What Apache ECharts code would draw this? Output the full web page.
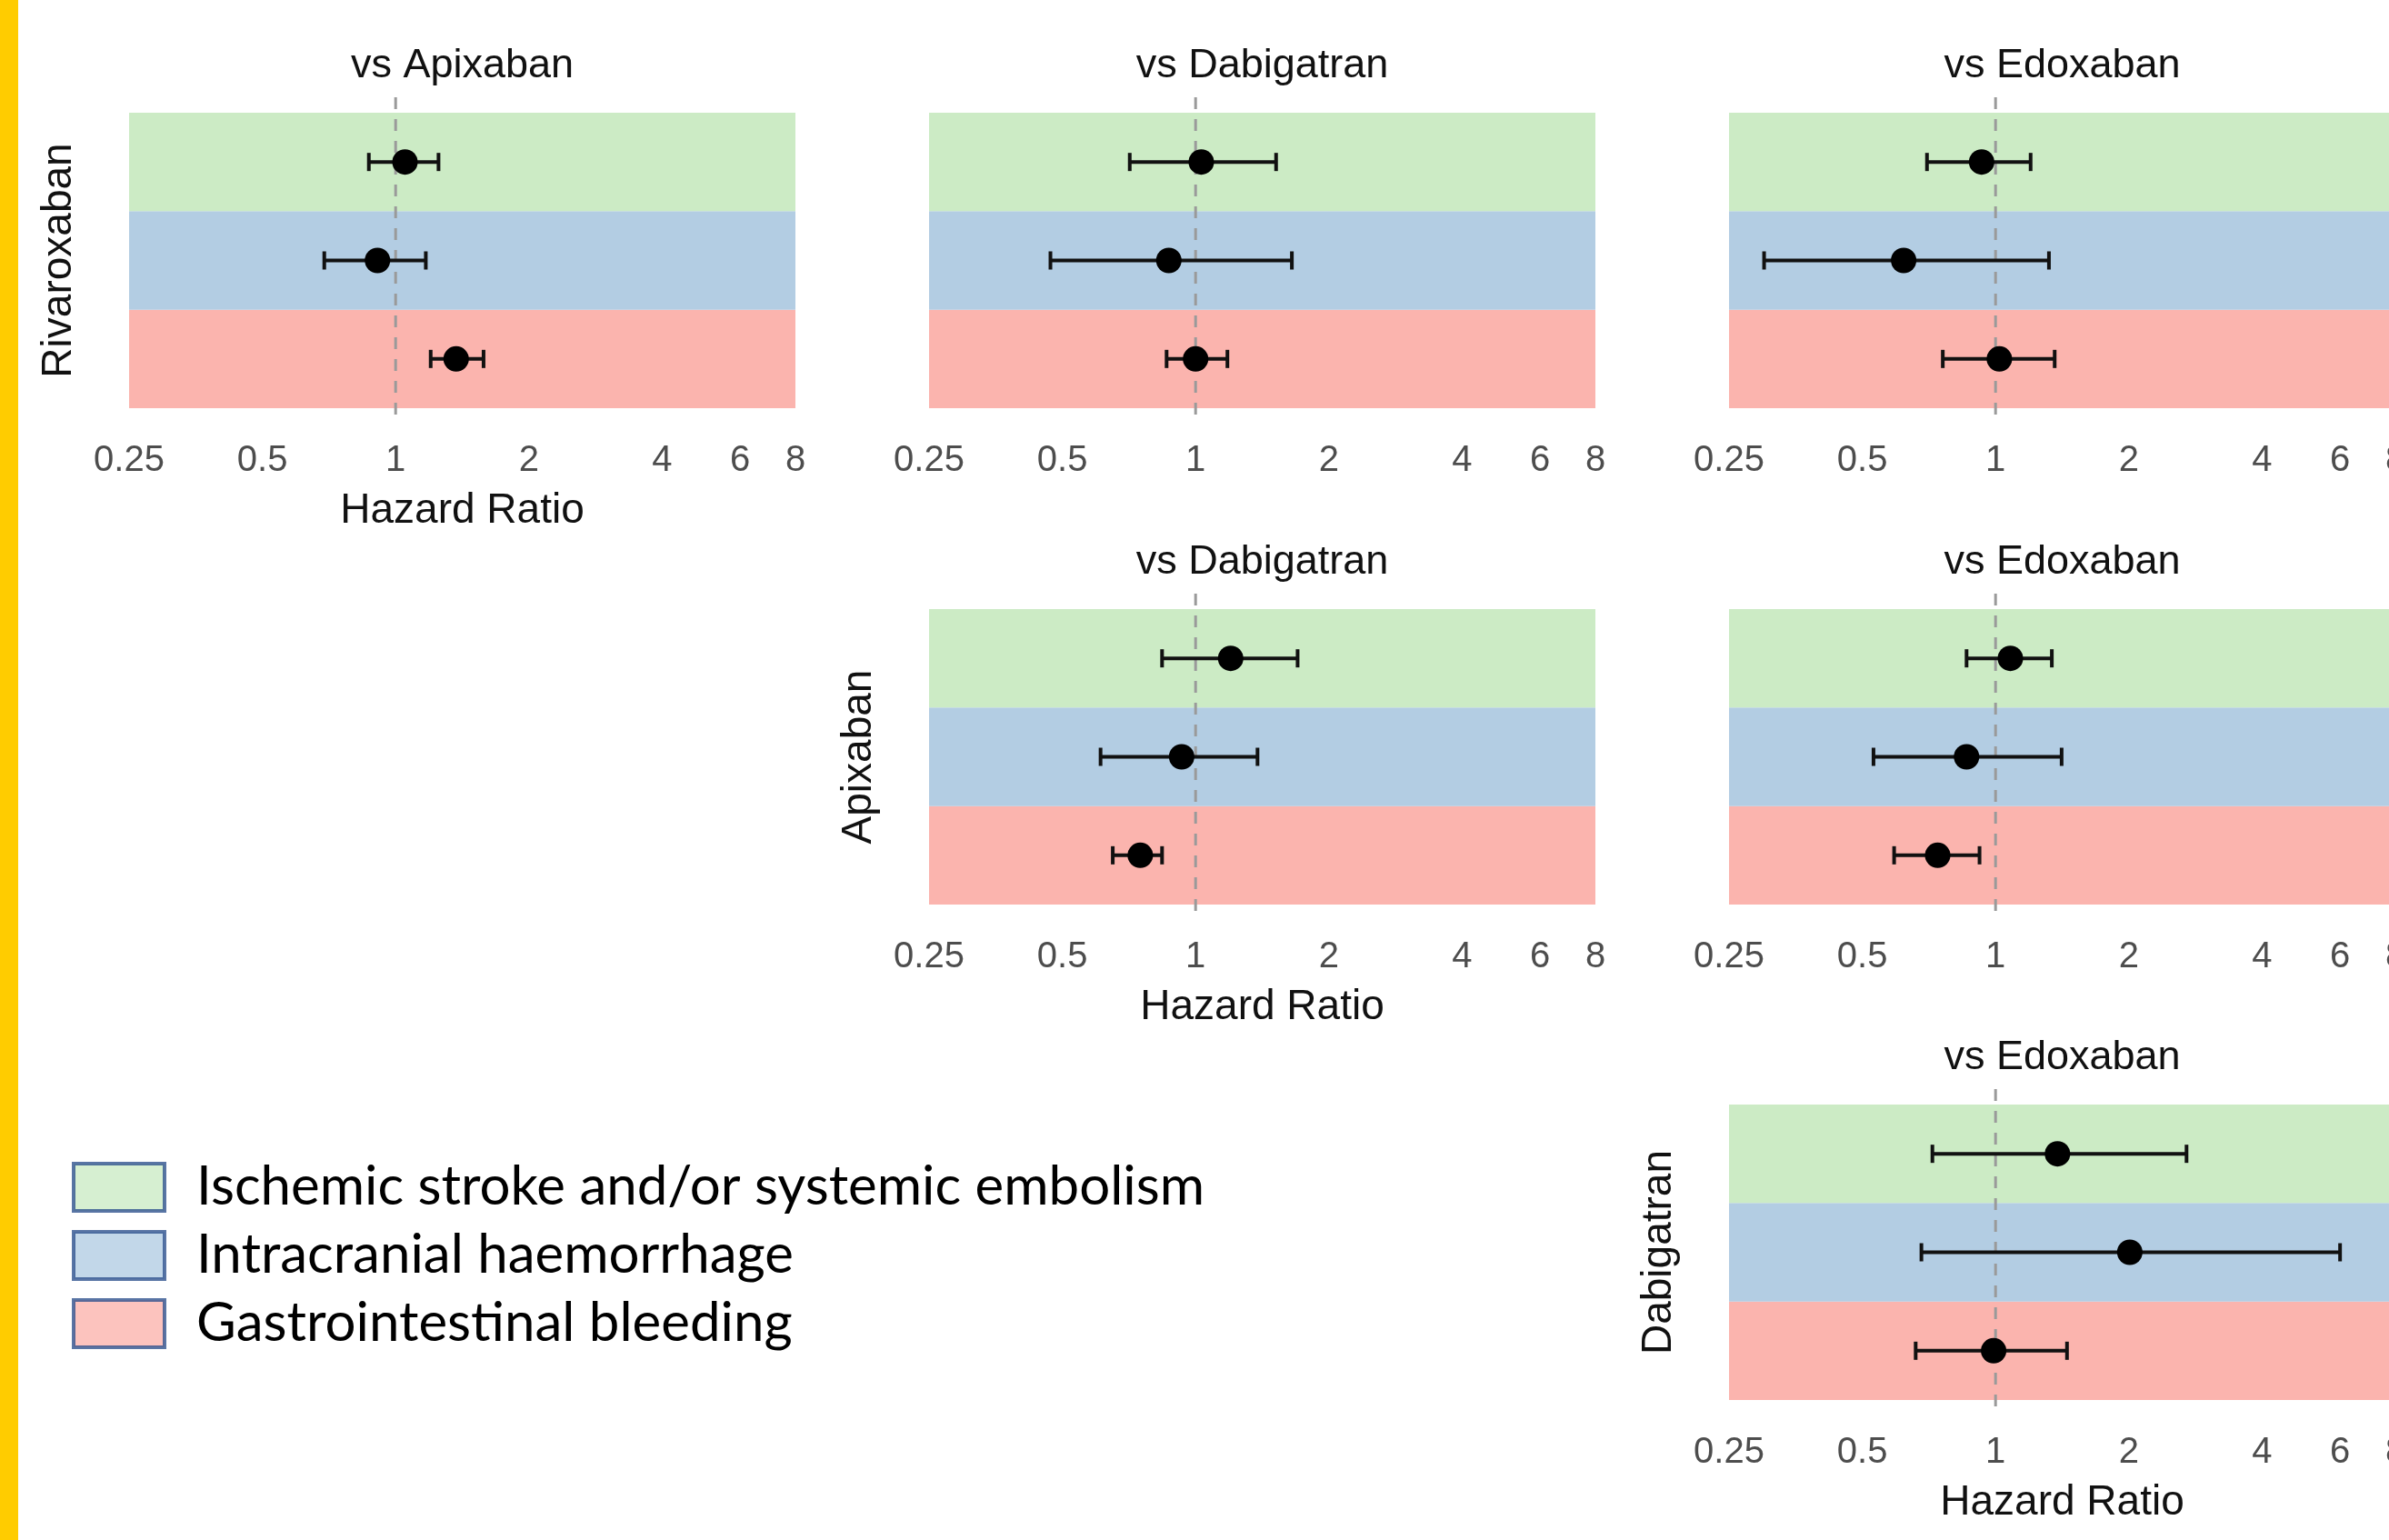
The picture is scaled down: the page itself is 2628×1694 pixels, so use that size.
<!DOCTYPE html>
<html>
<head>
<meta charset="utf-8">
<script src="https://cdn.jsdelivr.net/npm/echarts@6/dist/echarts.min.js"></script>
<style>
html,body{margin:0;padding:0;background:#fff;}
#chart{width:2628px;height:1694px;}
</style>
</head>
<body>
<div id="chart"></div>
<script>
// ---- data ----
const categories = ['Ischemic stroke and/or systemic embolism', 'Intracranial haemorrhage', 'Gastrointestinal bleeding'];
const panelTitles = ['vs Apixaban', 'vs Dabigatran', 'vs Edoxaban', 'vs Dabigatran', 'vs Edoxaban', 'vs Edoxaban'];
const panelRowDrug = ['Rivaroxaban', 'Rivaroxaban', 'Rivaroxaban', 'Apixaban', 'Apixaban', 'Dabigatran'];
const xTicks = [0.25, 0.5, 1, 2, 4, 6, 8];
const xAxisTitle = 'Hazard Ratio';

// panels: Riva-Apix, Riva-Dabi, Riva-Edox, Apix-Dabi, Apix-Edox, Dabi-Edox
const hrStroke = [1.05, 1.03, 0.93, 1.20, 1.08, 1.38];
const loStroke = [0.87, 0.71, 0.70, 0.84, 0.86, 0.72];
const hiStroke = [1.25, 1.52, 1.20, 1.70, 1.34, 2.70];
const hrICH = [0.91, 0.87, 0.62, 0.93, 0.86, 2.01];
const loICH = [0.69, 0.47, 0.30, 0.61, 0.53, 0.68];
const hiICH = [1.17, 1.65, 1.32, 1.38, 1.41, 6.00];
const hrGI = [1.37, 1.00, 1.02, 0.75, 0.74, 0.99];
const loGI = [1.20, 0.86, 0.76, 0.65, 0.59, 0.66];
const hiGI = [1.58, 1.18, 1.36, 0.84, 0.92, 1.45];
const refValue = 1;

// ---- layout / style ----
const colors = {stroke: '#CCEBC5', ich: '#B3CDE3', gi: '#FBB4AE'};
const panelPos = [[0,0],[0,1],[0,2],[1,1],[1,2],[2,2]]; // [row, col]
const colLeft = [142, 1022, 1902];
const rowTop = [124, 670, 1215];
const gW = 733, gH = 325;
const showRowName = [true, false, false, true, false, true];
const FONT = "'Liberation Sans', Arial, sans-serif";

// y categories bottom -> top
const yCats = [categories[2], categories[1], categories[0]];

const grids = [], xAxes = [], yAxes = [], series = [], titles = [];

panelPos.forEach((rc, i) => {
  const [r, c] = rc;
  grids.push({left: colLeft[c], top: rowTop[r], width: gW, height: gH, containLabel: false, outerBoundsMode: 'none'});
  xAxes.push({
    type: 'log', logBase: 2, min: 0.25, max: 8, gridIndex: i,
    axisLine: {show: false}, axisTick: {show: false}, splitLine: {show: false},
    axisLabel: {
      show: true, color: '#4D4D4D', fontSize: 40, fontFamily: FONT, margin: 38,
      customValues: xTicks, showMinLabel: true, showMaxLabel: true, hideOverlap: false,
      formatter: v => String(+v.toFixed(2))
    },
    name: showRowName[i] ? xAxisTitle : '',
    nameLocation: 'middle', nameGap: 90,
    nameTextStyle: {fontSize: 46, color: '#111', fontFamily: FONT}
  });
  yAxes.push({
    type: 'category', data: yCats, gridIndex: i, boundaryGap: true,
    axisLine: {show: false}, axisTick: {show: false}, axisLabel: {show: false},
    splitLine: {show: false},
    splitArea: {show: true, areaStyle: {color: [colors.gi, colors.ich, colors.stroke], opacity: 1}},
    name: showRowName[i] ? panelRowDrug[i] : '',
    nameLocation: 'middle', nameGap: 54, nameRotate: 90,
    nameTextStyle: {fontSize: 46, color: '#111', fontFamily: FONT}
  });
  titles.push({
    text: panelTitles[i], left: colLeft[c] + gW / 2, top: rowTop[r] - 74, textAlign: 'center', padding: 0,
    textStyle: {fontSize: 45, fontWeight: 'normal', color: '#111', fontFamily: FONT}
  });
  // reference dashed line
  series.push({
    type: 'custom', xAxisIndex: i, yAxisIndex: i, z: 3, silent: true,
    data: [[refValue]],
    encode: {x: 0},
    renderItem: (params, api) => {
      const cs = params.coordSys;
      const x = api.coord([api.value(0), 0])[0];
      return {type: 'line', shape: {x1: x, y1: cs.y - 17, x2: x, y2: cs.y + cs.height + 17},
        style: {stroke: '#9a9a9a', lineWidth: 3, lineDash: [13, 11]}};
    }
  });
  // error bars
  const ebData = [
    [loGI[i], hiGI[i], 0],
    [loICH[i], hiICH[i], 1],
    [loStroke[i], hiStroke[i], 2]
  ];
  series.push({
    type: 'custom', xAxisIndex: i, yAxisIndex: i, z: 5, silent: true,
    data: ebData, encode: {x: [0, 1], y: 2},
    renderItem: (params, api) => {
      const a = api.coord([api.value(0), api.value(2)]);
      const b = api.coord([api.value(1), api.value(2)]);
      const st = {stroke: '#111', lineWidth: 4};
      const cap = 10;
      return {type: 'group', children: [
        {type: 'line', shape: {x1: a[0], y1: a[1], x2: b[0], y2: b[1]}, style: st},
        {type: 'line', shape: {x1: a[0], y1: a[1] - cap, x2: a[0], y2: a[1] + cap}, style: st},
        {type: 'line', shape: {x1: b[0], y1: b[1] - cap, x2: b[0], y2: b[1] + cap}, style: st}
      ]};
    }
  });
  series.push({
    type: 'scatter', xAxisIndex: i, yAxisIndex: i, z: 6, silent: true,
    symbol: 'circle', symbolSize: 28,
    itemStyle: {color: '#000', opacity: 1},
    data: [[hrGI[i], 0], [hrICH[i], 1], [hrStroke[i], 2]]
  });
});

// legend dummy series
[[categories[0], colors.stroke], [categories[1], colors.ich], [categories[2], colors.gi]].forEach(([n, col]) => {
  series.push({type: 'scatter', name: n, xAxisIndex: 0, yAxisIndex: 0, data: [], itemStyle: {color: col}});
});

const option = {
  backgroundColor: '#ffffff',
  animation: false,
  title: titles,
  grid: grids,
  xAxis: xAxes,
  yAxis: yAxes,
  legend: {
    orient: 'vertical', left: 79, top: 1276, padding: 0,
    icon: 'rect', itemWidth: 100, itemHeight: 52, itemGap: 15,
    selectedMode: false,
    data: categories,
    itemStyle: {borderColor: '#2F528F', borderWidth: 4},
    textStyle: {fontSize: 60, color: '#000', fontFamily: "Lato, 'Open Sans', sans-serif", padding: [0, 0, 0, 30]}
  },
  graphic: [{type: 'rect', left: 0, top: 0, shape: {width: 20, height: 1694}, style: {fill: '#FFCC00'}, z: 100}],
  series: series
};

const chart = echarts.init(document.getElementById('chart'), null, {renderer: 'canvas'});
chart.setOption(option);
</script>
</body>
</html>
